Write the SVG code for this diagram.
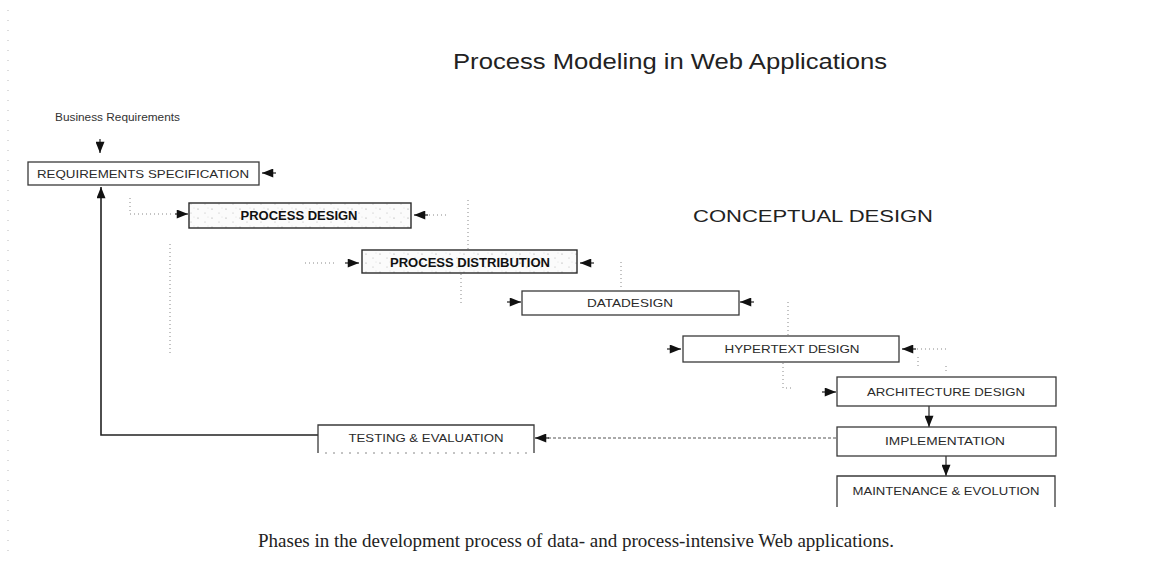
<svg xmlns="http://www.w3.org/2000/svg" width="1150" height="574" viewBox="0 0 1150 574">
  <style>
    .box { fill: #ffffff; stroke: #3a3a3a; stroke-width: 1.3; }
    .box-textured { fill: url(#stipple); stroke: #2a2a2a; stroke-width: 1.4; }
    .lbl { font-family: "Liberation Sans", Arial, sans-serif; font-size: 11px; fill: #2a2a2a; text-anchor: middle; }
    .lbl-bold { font-family: "Liberation Sans", Arial, sans-serif; font-size: 12px; font-weight: bold; fill: #111; text-anchor: middle; }
    .title { font-family: "Liberation Sans", Arial, sans-serif; font-size: 22px; fill: #222; }
    .phase { font-family: "Liberation Sans", Arial, sans-serif; font-size: 16px; fill: #222; }
    .caption { font-family: "Liberation Serif", "Times New Roman", serif; font-size: 19px; fill: #222; }
    .note { font-family: "Liberation Sans", Arial, sans-serif; font-size: 10px; fill: #333; }
    .solid { fill: none; stroke: #222; stroke-width: 1.6; }
    .dash { fill: none; stroke: #555; stroke-width: 1; stroke-dasharray: 3 2; }
    .dot { fill: none; stroke: #888; stroke-width: 1; stroke-dasharray: 1 3; }
    .head { fill: none; stroke: #222; stroke-width: 1.2; }
  </style>
  <defs>
    <marker id="arrow" viewBox="0 0 10 8" refX="10" refY="4" markerWidth="13" markerHeight="9" markerUnits="userSpaceOnUse" orient="auto">
      <path d="M0,0 L10,4 L0,8 z" fill="#111"/>
    </marker>
    <pattern id="stipple" width="14" height="9" patternUnits="userSpaceOnUse">
      <rect width="14" height="9" fill="#fbfbfb"/>
      <circle cx="2" cy="2" r="0.6" fill="#999"/>
      <circle cx="9" cy="6" r="0.5" fill="#aaa"/>
      <circle cx="12" cy="1" r="0.4" fill="#bbb"/>
    </pattern>
  </defs>

  <rect width="1150" height="574" fill="#ffffff"/>

  <!-- margin speckle along the left edge -->
  <line x1="8" y1="10" x2="8" y2="560" stroke="#bbb" stroke-width="1" stroke-dasharray="1 9"/>

  <!-- headings -->
  <text class="title" x="453" y="69" textLength="434" lengthAdjust="spacingAndGlyphs">Process Modeling in Web Applications</text>
  <text class="phase" x="693" y="222" textLength="240" lengthAdjust="spacingAndGlyphs">CONCEPTUAL DESIGN</text>
  <text class="note" x="55" y="121" textLength="125" lengthAdjust="spacingAndGlyphs">Business Requirements</text>
  <text class="caption" x="258" y="547" textLength="636" lengthAdjust="spacingAndGlyphs">Phases in the development process of data- and process-intensive Web applications.</text>

  <!-- connectors -->
  <g id="connectors">
    <line class="head" x1="100" y1="139" x2="100" y2="153" marker-end="url(#arrow)"/>
    <line class="head" x1="276" y1="173" x2="262" y2="173" marker-end="url(#arrow)"/>
    <polyline class="solid" points="318,435 101,435 101,187" marker-end="url(#arrow)"/>

    <polyline class="dot" points="130,198 130,214 174,214"/>
    <line class="head" x1="175" y1="214" x2="188" y2="214" marker-end="url(#arrow)"/>
    <line class="head" x1="428" y1="215" x2="414" y2="215" marker-end="url(#arrow)"/>
    <line class="dot" x1="429" y1="215" x2="447" y2="215"/>
    <line class="dot" x1="468" y1="200" x2="468" y2="250"/>
    <line class="dot" x1="170" y1="244" x2="170" y2="356"/>

    <line class="dot" x1="305" y1="263" x2="337" y2="263"/>
    <line class="head" x1="345" y1="263" x2="359" y2="263" marker-end="url(#arrow)"/>
    <line class="head" x1="594" y1="263" x2="580" y2="263" marker-end="url(#arrow)"/>
    <line class="dot" x1="621" y1="262" x2="621" y2="290"/>
    <line class="dot" x1="461" y1="274" x2="461" y2="304"/>

    <line class="head" x1="507" y1="302" x2="521" y2="302" marker-end="url(#arrow)"/>
    <line class="head" x1="754" y1="302" x2="740" y2="302" marker-end="url(#arrow)"/>
    <line class="dot" x1="788" y1="302" x2="788" y2="335"/>

    <line class="head" x1="667" y1="349" x2="681" y2="349" marker-end="url(#arrow)"/>
    <line class="head" x1="916" y1="349" x2="902" y2="349" marker-end="url(#arrow)"/>
    <line class="dot" x1="917" y1="349" x2="946" y2="349"/>
    <line class="dot" x1="918" y1="357" x2="918" y2="368"/>
    <line class="dot" x1="946" y1="366" x2="946" y2="374"/>
    <polyline class="dot" points="783,363 783,388 793,388"/>

    <line class="head" x1="822" y1="392" x2="836" y2="392" marker-end="url(#arrow)"/>
    <line class="head" x1="929" y1="406" x2="929" y2="427" marker-end="url(#arrow)"/>
    <line class="head" x1="946" y1="456" x2="946" y2="476" marker-end="url(#arrow)"/>
    <line class="dash" x1="836" y1="438" x2="546" y2="438"/>
    <line class="head" x1="549" y1="438" x2="535" y2="438" marker-end="url(#arrow)"/>
  </g>

  <!-- phase nodes -->
  <g id="node-requirements">
    <rect class="box" x="28" y="162" width="231" height="23"/>
    <text class="lbl" x="143" y="178" textLength="212" lengthAdjust="spacingAndGlyphs">REQUIREMENTS SPECIFICATION</text>
  </g>
  <g id="node-process-design">
    <rect class="box-textured" x="189" y="203" width="222" height="25"/>
    <text class="lbl-bold" x="299" y="220" textLength="117" lengthAdjust="spacingAndGlyphs">PROCESS DESIGN</text>
  </g>
  <g id="node-process-distribution">
    <rect class="box-textured" x="362" y="250" width="215" height="23"/>
    <text class="lbl-bold" x="470" y="267" textLength="160" lengthAdjust="spacingAndGlyphs">PROCESS DISTRIBUTION</text>
  </g>
  <g id="node-data-design">
    <rect class="box" x="522" y="291" width="217" height="24"/>
    <text class="lbl" x="630" y="307" textLength="86" lengthAdjust="spacingAndGlyphs">DATADESIGN</text>
  </g>
  <g id="node-hypertext-design">
    <rect class="box" x="683" y="336" width="216" height="26"/>
    <text class="lbl" x="792" y="353" textLength="135" lengthAdjust="spacingAndGlyphs">HYPERTEXT DESIGN</text>
  </g>
  <g id="node-architecture-design">
    <rect class="box" x="837" y="377" width="219" height="29"/>
    <text class="lbl" x="946" y="396" textLength="158" lengthAdjust="spacingAndGlyphs">ARCHITECTURE DESIGN</text>
  </g>
  <g id="node-implementation">
    <rect class="box" x="837" y="427" width="219" height="29"/>
    <text class="lbl" x="945" y="445" textLength="120" lengthAdjust="spacingAndGlyphs">IMPLEMENTATION</text>
  </g>
  <g id="node-maintenance">
    <path class="box" d="M837,507 L837,476 L1055,476 L1055,507"/>
    <text class="lbl" x="946" y="495" textLength="187" lengthAdjust="spacingAndGlyphs">MAINTENANCE &amp; EVOLUTION</text>
  </g>
  <g id="node-testing">
    <path class="box" d="M318,453 L318,425 L534,425 L534,453"/>
    <line x1="325" y1="453" x2="530" y2="453" stroke="#888" stroke-width="1" stroke-dasharray="2 6"/>
    <text class="lbl" x="426" y="442" textLength="155" lengthAdjust="spacingAndGlyphs">TESTING &amp; EVALUATION</text>
  </g>
</svg>
